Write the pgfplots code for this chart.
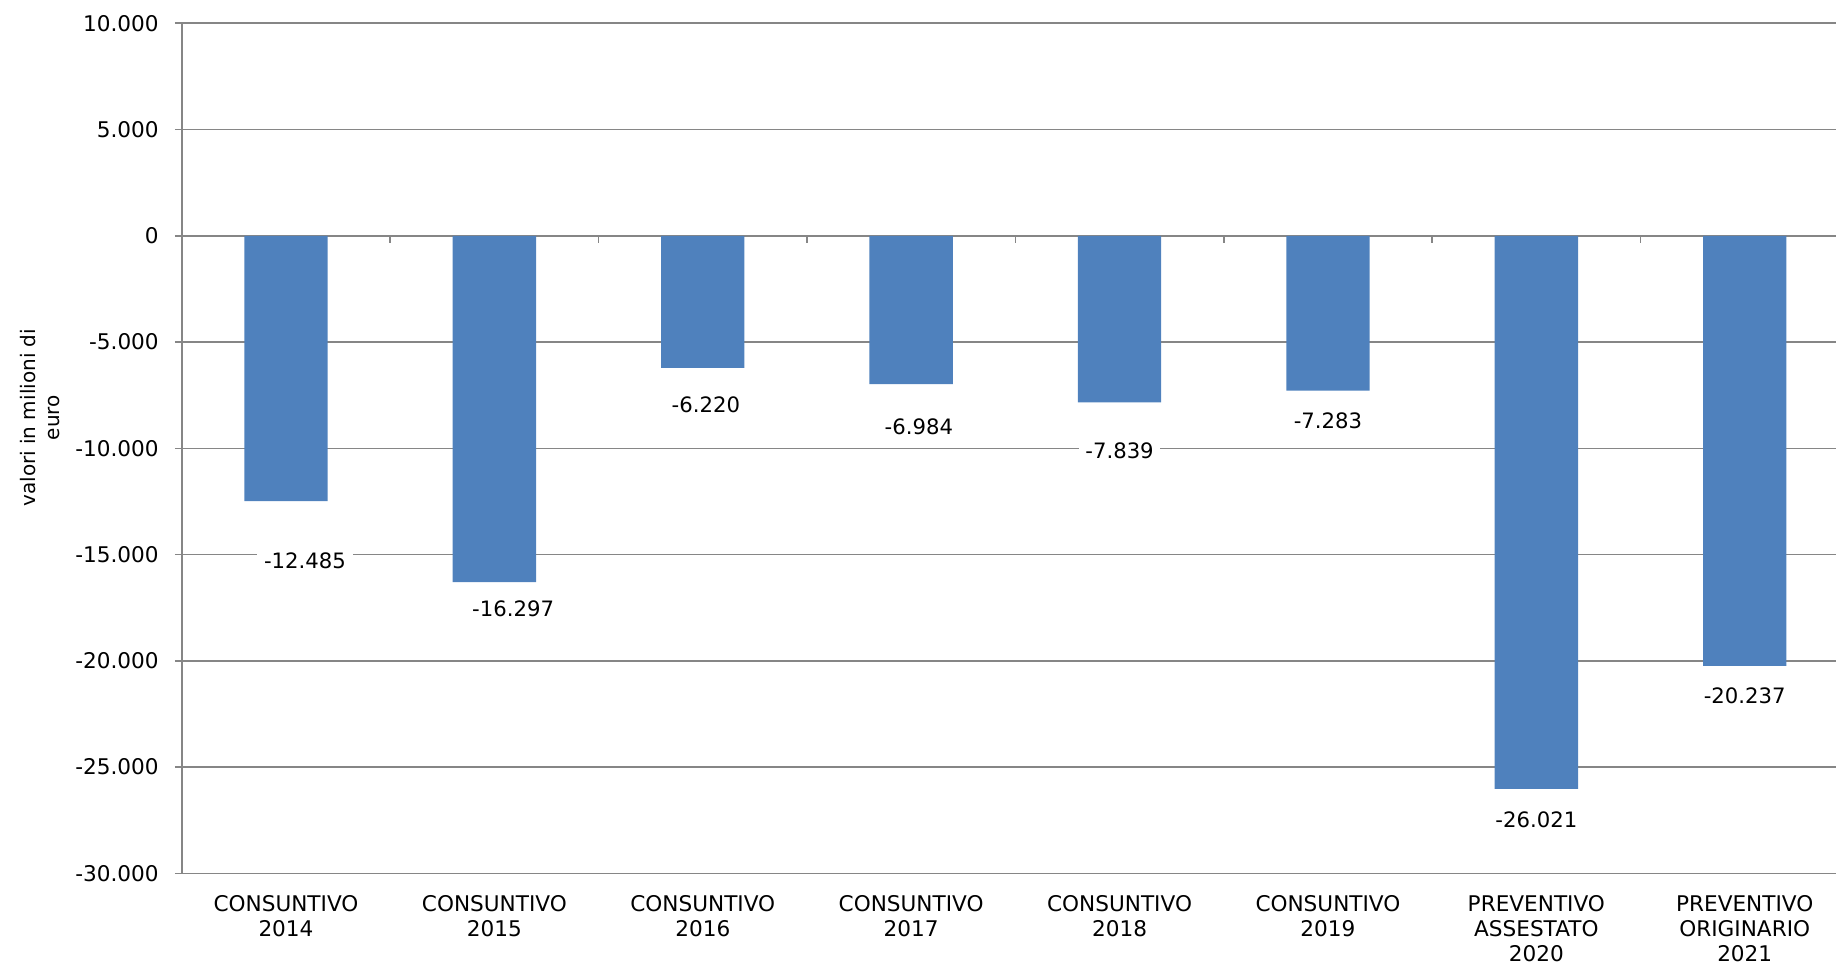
\documentclass[border=0pt]{standalone}
\usepackage{pgfplots}
\pgfplotsset{compat=1.18}
\usepackage{pgfplotstable}
\usepackage{fontspec}
\setmainfont{DejaVu Sans}
\definecolor{barblue}{HTML}{4F81BD}
\definecolor{gridgray}{HTML}{868686}

\pgfplotstableread{
x y
0 -12485
1 -16297
2 -6220
3 -6984
4 -7839
5 -7283
6 -26021
7 -20237
}\bars

\pgfplotstableread{
x ly lab
0.091 -15293 -12.485
1.090 -17551 -16.297
2.015 -7953 -6.220
3.037 -8975 -6.984
4 -10118 -7.839
5 -8706 -7.283
6 -27478 -26.021
7 -21645 -20.237
}\labs

\begin{document}
\begin{tikzpicture}
\begin{axis}[
  scale only axis, width=827.1pt, height=425pt,
  xmin=-0.5, xmax=7.438, ymin=-30000, ymax=10000,
  axis lines=left, axis line style={gridgray, line width=0.8pt, -},
  ytick={-30000,-25000,...,10000},
  ymajorgrids, major grid style={gridgray, line width=0.8pt},
  xtick={0,...,7},
  xticklabels={{CONSUNTIVO\\2014},{CONSUNTIVO\\2015},{CONSUNTIVO\\2016},{CONSUNTIVO\\2017},{CONSUNTIVO\\2018},{CONSUNTIVO\\2019},{PREVENTIVO\\ASSESTATO\\2020},{PREVENTIVO\\ORIGINARIO\\2021}},
  xtick style={draw=none},
  ytick style={gridgray, line width=0.8pt},
  tick align=outside, major tick length=3.5pt,
  scaled y ticks=false,
  y tick label style={font=\fontsize{10.8}{12.6}\selectfont, xshift=-4.5pt},
  yticklabel style={/pgf/number format/.cd, 1000 sep={.}, assume math mode=true},
  x tick label style={align=center, font=\fontsize{10.8}{12.5}\selectfont, yshift=-4pt},
  ylabel={valori in milioni di\\euro},
  ylabel style={align=center, font=\fontsize{10}{12}\selectfont, at={(rel axis cs:-0.0855,0.536)}, anchor=center},
]
\addplot[ybar, bar width=0.4, fill=barblue, draw=none] table[x=x, y=y] {\bars};
\addplot[only marks, mark=none, nodes near coords, point meta=explicit symbolic,
  nodes near coords style={anchor=center, fill=white, font=\fontsize{10.6}{12.6}\selectfont}]
  table[x=x, y=ly, meta=lab] {\labs};
\pgfplotsinvokeforeach{0.5,1.5,2.5,3.5,4.5,5.5,6.5}{
  \draw[gridgray, line width=0.8pt] (axis cs:#1,0) -- ++(0pt,-3.5pt);
}
\coordinate (SW) at (rel axis cs:0,0);
\end{axis}
\pgfresetboundingbox
\path ([xshift=-90.9pt,yshift=-46.35pt]SW) rectangle ++(918pt,483pt);
\end{tikzpicture}
\end{document}
